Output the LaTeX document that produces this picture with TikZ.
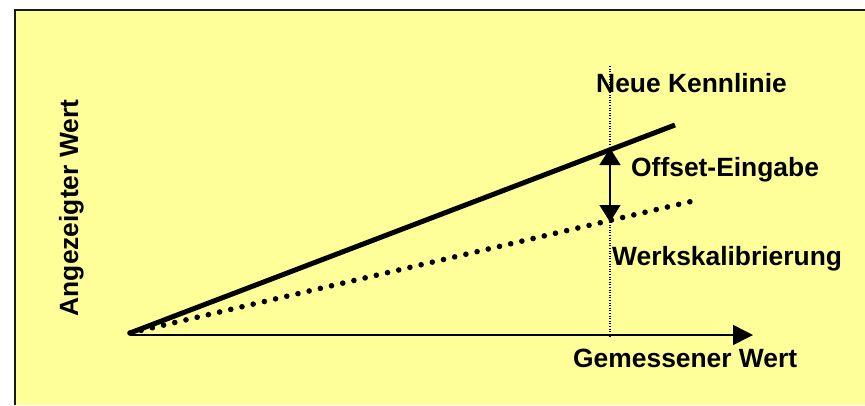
\documentclass[tikz,border=0pt]{standalone}
\usepackage{fontspec}
\setmainfont{Liberation Sans}
\usetikzlibrary{arrows.meta}
\definecolor{bgyellow}{HTML}{FFFF99}
\definecolor{frame}{HTML}{1A1A1A}
\tikzset{
  lbl/.style={font=\fontsize{26.4}{30}\selectfont\bfseries, inner sep=0pt},
  thickline/.style={line width=5pt},
  dotline/.style={line width=5.6pt, line cap=round, dash pattern=on 0pt off 11.5pt},
  guide/.style={line width=1.1pt, dash pattern=on 1pt off 1.6pt},
  axisarrow/.style={line width=1.6pt, -{Triangle[length=20pt,width=20pt]}},
  offsetarrow/.style={line width=1.5pt, {Triangle[length=17pt,width=21pt]}-{Triangle[length=17pt,width=21pt]}}
}
\begin{document}
\begin{tikzpicture}[x=1pt,y=1pt]
\useasboundingbox (0,0) rectangle (865,-405);
\fill[bgyellow] (15,-10) rectangle (865,-405);
\draw[frame, line width=2pt] (15,-405) -- (15,-10) -- (865,-10);
% coordinates
\coordinate (o) at (130,-333);
\coordinate (axend) at (753,-335);
\coordinate (axstart) at (130,-335);
\coordinate (newend) at (675,-125);
\coordinate (oldend) at (693,-201);
\coordinate (vtop) at (610,-66);
\coordinate (vbot) at (610,-339);
\coordinate (atop) at (610,-148);
\coordinate (abot) at (610,-222);
% guide
\draw[guide] (vtop) -- (vbot);
% axis
\draw[axisarrow] (axstart) -- (axend);
% lines
\draw[dotline] (o) -- (oldend);
\draw[thickline] (o) -- (newend);
% offset arrow
\draw[offsetarrow] (abot) -- (atop);
% labels
\node[lbl, anchor=base west] (kenn) at (596,-92) {Neue Kennlinie};
\node[lbl, anchor=base west] (offs) at (631,-176) {Offset-Eingabe};
\node[lbl, anchor=base west] (werk) at (612,-265) {Werkskalibrierung};
\node[lbl, anchor=base west] (gem) at (573,-367) {Gemessener Wert};
\node[lbl, anchor=base, rotate=90] (ang) at (78,-208) {Angezeigter Wert};
\end{tikzpicture}
\end{document}
